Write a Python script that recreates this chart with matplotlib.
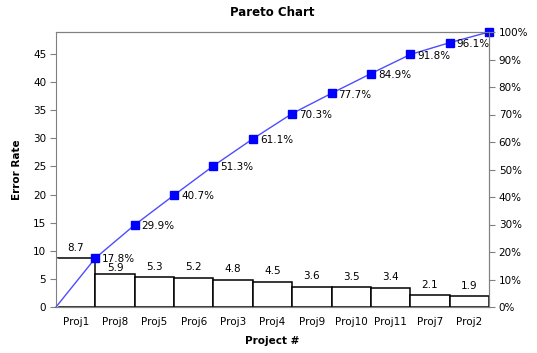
import matplotlib
matplotlib.use("Agg")
import matplotlib.pyplot as plt
import numpy as np

projects = ["Proj1", "Proj8", "Proj5", "Proj6", "Proj3", "Proj4", "Proj9", "Proj10", "Proj11", "Proj7", "Proj2"]
error_rate = [8.7, 5.9, 5.3, 5.2, 4.8, 4.5, 3.6, 3.5, 3.4, 2.1, 1.9]
left_ticks = [0, 5, 10, 15, 20, 25, 30, 35, 40, 45]
right_ticks = [0, 10, 20, 30, 40, 50, 60, 70, 80, 90, 100]

plt.rcParams['font.family'] = ['DejaVu Sans']
vals = np.array(error_rate)
total = vals.sum()
cum = np.cumsum(vals)
cum_pct = cum / total * 100

fig = plt.figure(figsize=(5.37, 3.53), dpi=100)
ax = fig.add_axes([56/537, 1-307/353, 433/537, 275/353])
x = np.arange(len(projects))
ax.bar(x, vals, width=1.0, color='white', edgecolor='black', linewidth=1.1, zorder=2)
ax.plot([-0.5, -0.5], [0, vals[0]], color='white', lw=2.5, zorder=2.1, solid_capstyle='butt')
for i, (xi, v) in enumerate(zip(x, vals)):
    off = 0.5 if i == 1 else 4
    ax.annotate(f"{v:.1f}", (xi, v), xytext=(0, off), textcoords='offset points',
                ha='center', va='bottom', fontsize=7.5)

lx = np.concatenate([[-0.5], x + 0.5])
ly = np.concatenate([[0], cum])
ax.plot(lx, ly, color='#4d4dff', lw=1.0, zorder=3, clip_on=False)
ax.plot(x + 0.5, cum, linestyle='none', marker='s', markersize=5.5, color='#0000ff', zorder=4, clip_on=False)
for xi, c, p in zip(x + 0.5, cum, cum_pct):
    if p < 99.95:
        ax.annotate(f"{p:.1f}%", (xi, c), xytext=(5, -1), textcoords='offset points',
                    ha='left', va='center', fontsize=7.5)

ax.set_xlim(-0.5, len(projects) - 0.5)
ax.set_ylim(0, total)
ax.set_yticks(left_ticks)
ax.set_xticks(x)
ax.set_xticklabels(projects, fontsize=7.5)
ax.tick_params(axis='x', length=0, pad=7)
ax.tick_params(axis='y', labelsize=7.5, length=4, width=0.8, color='#808080', pad=3)
for s in ['top', 'right', 'bottom', 'left']:
    ax.spines[s].set_color('#808080')
    ax.spines[s].set_linewidth(0.8)
    ax.spines[s].set_zorder(2.6)

ax2 = ax.twinx()
ax2.set_ylim(0, 100)
ax2.set_yticks(right_ticks)
ax2.set_yticklabels([f"{t}%" for t in right_ticks], fontsize=7.5)
ax2.tick_params(axis='y', length=4, width=0.8, color='#808080', pad=3)
for s in ['top', 'right', 'bottom']:
    ax2.spines[s].set_color('#808080')
    ax2.spines[s].set_linewidth(0.8)
ax2.spines['left'].set_visible(False)

ax.set_ylabel("Error Rate", fontsize=7.5, fontweight='bold', labelpad=8)
ax.set_xlabel("Project #", fontsize=7.5, fontweight='bold', labelpad=7)
fig.text(0.5 * (56 + 489) / 537, 1 - 13/353, "Pareto Chart", ha='center', va='center',
         fontsize=8.5, fontweight='bold')

fig.savefig("out.png", dpi=100, facecolor='white')
